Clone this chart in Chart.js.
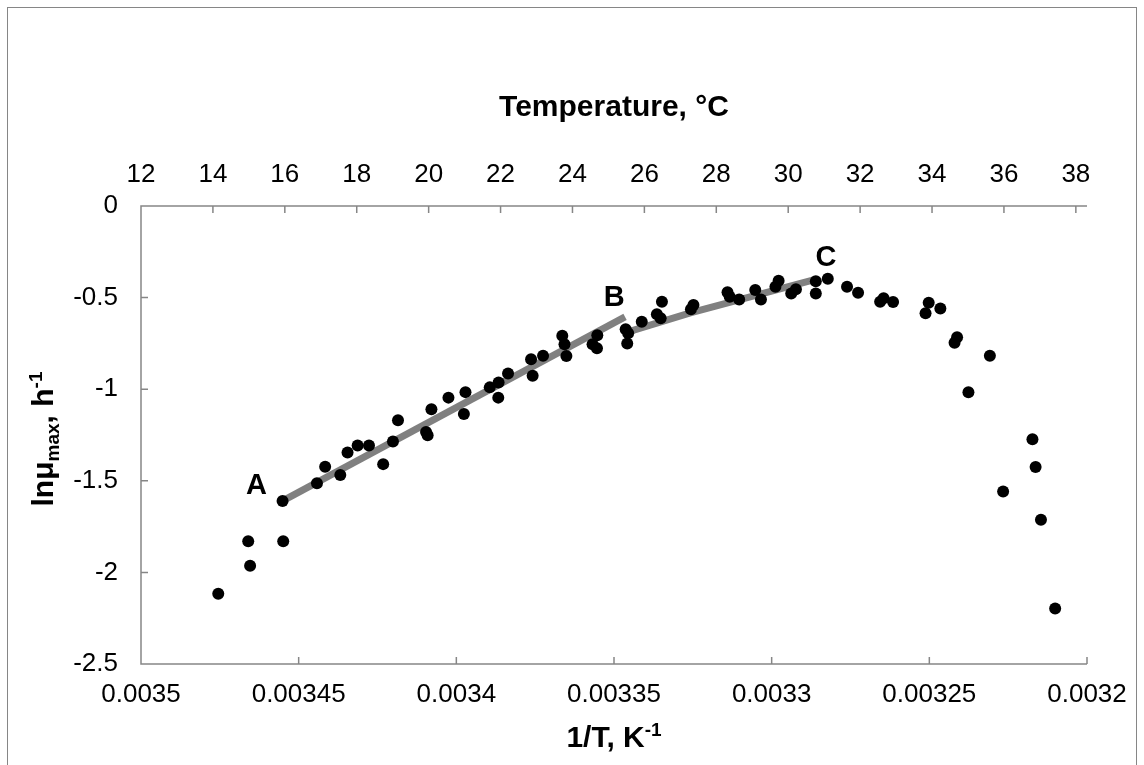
<!DOCTYPE html>
<html>
<head>
<meta charset="utf-8">
<script src="https://cdn.jsdelivr.net/npm/chart.js@4.4.0/dist/chart.umd.min.js"></script>
<style>
  html, body { margin: 0; padding: 0; background: #fff; }
</style>
</head>
<body>
<canvas id="arrhenius" width="1144" height="765"></canvas>
<script>
// measured growth rates: 1/T (K^-1) vs ln(mu_max)
const invT = [
  0.0034755, 0.0034660, 0.0034654, 0.0034551, 0.0034549, 0.0034442, 0.0034416, 0.0034368,
  0.0034345, 0.0034313, 0.0034277, 0.0034232, 0.0034201, 0.0034185, 0.0034096, 0.0034091,
  0.0034079, 0.0034025, 0.0033976, 0.0033971, 0.0033894, 0.0033866, 0.0033867, 0.0033836,
  0.0033763, 0.0033758, 0.0033725, 0.0033664, 0.0033657, 0.0033651, 0.0033568, 0.0033553,
  0.0033554, 0.0033463, 0.0033455, 0.0033458, 0.0033412, 0.0033364, 0.0033352, 0.0033348,
  0.0033256, 0.0033248, 0.0033140, 0.0033133, 0.0033103, 0.0033052, 0.0033034, 0.0032988,
  0.0032978, 0.0032938, 0.0032923, 0.0032860, 0.0032860, 0.0032822, 0.0032761, 0.0032726,
  0.0032656, 0.0032645, 0.0032615, 0.0032502, 0.0032512, 0.0032465, 0.0032412, 0.0032420,
  0.0032308, 0.0032376, 0.0032173, 0.0032163, 0.0032266, 0.0032146, 0.0032101
];
const lnMu = [
  -2.117, -1.830, -1.964, -1.610, -1.830, -1.513, -1.423, -1.468,
  -1.345, -1.307, -1.307, -1.409, -1.285, -1.169, -1.233, -1.251,
  -1.109, -1.046, -1.136, -1.016, -0.990, -0.964, -1.046, -0.914,
  -0.837, -0.926, -0.818, -0.708, -0.754, -0.819, -0.754, -0.706,
  -0.777, -0.673, -0.694, -0.750, -0.632, -0.591, -0.613, -0.523,
  -0.564, -0.541, -0.471, -0.495, -0.510, -0.459, -0.510, -0.441,
  -0.408, -0.477, -0.455, -0.411, -0.477, -0.397, -0.441, -0.474,
  -0.523, -0.504, -0.524, -0.528, -0.586, -0.559, -0.717, -0.747,
  -0.818, -1.017, -1.273, -1.425, -1.558, -1.713, -2.197
];

// fitted segments A-B and B-C
const fitABx = [0.0034551, 0.0033465];
const fitABy = [-1.610, -0.605];
const fitBCx = [0.0033458, 0.0033258, 0.0032861];
const fitBCy = [-0.688, -0.584, -0.401];

// region labels
const markText = ["A", "B", "C"];
const markX = [0.0034634, 0.0033499, 0.0032828];
const markY = [-1.529, -0.502, -0.286];

// axis ticks
const tempMin = 12, tempMax = 38.31, tempStep = 2;
const yTicks = [0, -0.5, -1, -1.5, -2, -2.5];

const FONT = '"Liberation Sans", Arial, sans-serif';
const GREY = "#868686";

function toPts(xs, ys) {
  return xs.map((v, i) => ({ x: v, y: ys[i] }));
}

function richText(c, parts, x, y) {
  let w = 0;
  parts.forEach(p => {
    c.font = "bold " + p.size + "px " + FONT;
    p.w = c.measureText(p.t).width;
    w += p.w;
  });
  let cx = x - w / 2;
  c.textAlign = "left";
  c.textBaseline = "alphabetic";
  parts.forEach(p => {
    c.font = "bold " + p.size + "px " + FONT;
    c.fillText(p.t, cx, y + (p.dy || 0));
    cx += p.w;
  });
}

const decor = {
  id: "decor",
  beforeDraw(chart) {
    const c = chart.ctx;
    c.save();
    c.fillStyle = "#fff";
    c.fillRect(0, 0, chart.width, chart.height);
    c.strokeStyle = GREY;
    c.lineWidth = 1;
    c.strokeRect(7.5, 7.5, 1129, 800);
    c.restore();
  },
  afterDatasetsDraw(chart) {
    const c = chart.ctx, a = chart.chartArea;
    const sx = chart.scales.x, st = chart.scales.xt, sy = chart.scales.y;
    c.save();
    c.strokeStyle = GREY;
    c.lineWidth = 1.5;
    c.beginPath();
    c.moveTo(a.right, a.top); c.lineTo(a.left, a.top);
    c.lineTo(a.left, a.bottom); c.lineTo(a.right, a.bottom);
    sx.ticks.forEach(t => {
      const p = sx.getPixelForValue(t.value);
      c.moveTo(p, a.bottom); c.lineTo(p, a.bottom - 7);
    });
    st.ticks.forEach(t => {
      const p = st.getPixelForValue(t.value);
      c.moveTo(p, a.top); c.lineTo(p, a.top + 7);
    });
    sy.ticks.forEach(t => {
      const p = sy.getPixelForValue(t.value);
      c.moveTo(a.left, p); c.lineTo(a.left + 7, p);
    });
    c.stroke();

    // A, B, C
    c.fillStyle = "#000";
    c.font = "bold 29px " + FONT;
    c.textAlign = "center";
    c.textBaseline = "middle";
    markText.forEach((m, i) => {
      c.fillText(m, sx.getPixelForValue(markX[i]), sy.getPixelForValue(markY[i]));
    });

    // axis titles
    const mid = (a.left + a.right) / 2;
    richText(c, [{ t: "Temperature, °C", size: 30 }], mid, 116);
    richText(c, [{ t: "1/T, K", size: 30 }, { t: "-1", size: 19, dy: -11 }], mid, 747);
    c.translate(53, (a.top + a.bottom) / 2 + 4);
    c.rotate(-Math.PI / 2);
    richText(c, [
      { t: "lnμ", size: 30 },
      { t: "max", size: 19, dy: 6 },
      { t: ", h", size: 30 },
      { t: "-1", size: 19, dy: -11 }
    ], 0, 0);
    c.restore();
  }
};

const tickFont = { family: FONT, size: 26 };

new Chart(document.getElementById("arrhenius"), {
  type: "scatter",
  data: {
    datasets: [
      {
        data: toPts(invT, lnMu),
        backgroundColor: "#000",
        borderWidth: 0,
        pointRadius: 6,
        order: 0
      },
      {
        type: "line",
        data: toPts(fitABx, fitABy),
        borderColor: "#808080",
        borderWidth: 7,
        pointRadius: 0,
        fill: false,
        order: 1
      },
      {
        type: "line",
        data: toPts(fitBCx, fitBCy),
        borderColor: "#808080",
        borderWidth: 7,
        pointRadius: 0,
        fill: false,
        order: 1
      }
    ]
  },
  options: {
    responsive: false,
    animation: false,
    devicePixelRatio: 1,
    layout: { padding: { left: 0, top: 0, right: 57, bottom: 0 } },
    plugins: { legend: { display: false }, tooltip: { enabled: false } },
    scales: {
      x: {
        type: "linear",
        position: "bottom",
        reverse: true,
        min: 0.0032,
        max: 0.0035,
        ticks: {
          stepSize: 0.00005,
          color: "#000",
          font: tickFont,
          padding: 15,
          maxRotation: 0,
          autoSkip: false,
          callback: v => String(+v.toFixed(5))
        },
        grid: { display: false, drawTicks: false },
        border: { display: false },
        afterFit(s) { s.height = 101; }
      },
      xt: {
        type: "linear",
        position: "top",
        min: tempMin,
        max: tempMax,
        ticks: {
          stepSize: tempStep,
          includeBounds: false,
          color: "#000",
          font: tickFont,
          padding: 16,
          maxRotation: 0,
          autoSkip: false
        },
        grid: { display: false, drawTicks: false },
        border: { display: false },
        afterFit(s) { s.height = 206; }
      },
      y: {
        min: -2.5,
        max: 0,
        afterBuildTicks(s) { s.ticks = yTicks.map(v => ({ value: v })); },
        ticks: {
          color: "#000",
          font: tickFont,
          padding: 23,
          callback: v => String(+v.toFixed(2))
        },
        grid: { display: false, drawTicks: false },
        border: { display: false },
        afterFit(s) { s.width = 141; }
      }
    }
  },
  plugins: [decor]
});
</script>
</body>
</html>
